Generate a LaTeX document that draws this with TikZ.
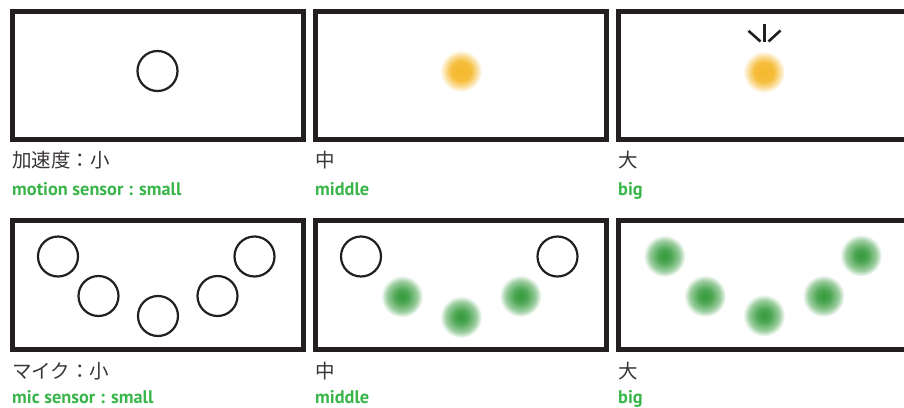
\documentclass[tikz,border=0pt]{standalone}
\usepackage{fontspec}
\setsansfont{PT Sans}
\newfontfamily\jpfont{Noto Sans CJK JP}
\definecolor{framec}{HTML}{231F20}
\definecolor{labelgreen}{HTML}{39B54A}
\definecolor{glowyellow}{HTML}{F5B82C}
\definecolor{glowgreen}{HTML}{359A3C}
\pgfdeclareradialshading{yellowglow}{\pgfpoint{0bp}{0bp}}{color(0bp)=(glowyellow); color(12bp)=(glowyellow!92!white); color(19bp)=(glowyellow!45!white); color(25bp)=(white); color(50bp)=(white)}
\pgfdeclareradialshading{greenglow}{\pgfpoint{0bp}{0bp}}{color(0bp)=(glowgreen); color(8bp)=(glowgreen!88!white); color(18bp)=(glowgreen!50!white); color(25bp)=(white); color(50bp)=(white)}
\tikzset{
  panel/.style={draw=framec, line width=5pt},
  ring/.style={draw=framec, line width=2.2pt},
  yglow/.style={shading=yellowglow},
  gglow/.style={shading=greenglow},
  jplabel/.style={anchor=base west, inner sep=0pt, text=framec!90, font=\jpfont\fontsize{19.5}{20}\selectfont},
  enlabel/.style={anchor=base west, inner sep=0pt, text=labelgreen, font=\sffamily\bfseries\fontsize{18.3}{18}\selectfont}
}
\begin{document}
\begin{tikzpicture}[x=1pt, y=-1pt]
\useasboundingbox (0,0) rectangle (904,407);
% acceleration row
\draw[panel] (12.5,11.5) rectangle (303.5,139.5);
\draw[panel] (315.5,11.5) rectangle (606.5,139.5);
\draw[panel] (618.5,11.5) rectangle (909.5,139.5);
\draw[ring] (157.5,71) circle (20);
\shade[yglow] (461,71) circle (21);
\shade[yglow] (764,72) circle (21);
\draw[framec, line width=2.6pt] (764.3,23.5) -- (764.3,41.5);
\draw[framec, line width=2.6pt] (748.5,30.8) -- (760.5,41.5);
\draw[framec, line width=2.6pt] (780.5,30.5) -- (768.5,41.5);
\node[jplabel] (acc small) at (12,167) {加速度：小};
\node[enlabel] (acc small en) at (12,195) {motion sensor : small};
\node[jplabel] (acc mid) at (315,167) {中};
\node[enlabel] (acc mid en) at (315,195) {middle};
\node[jplabel] (acc big) at (618,167) {大};
\node[enlabel] (acc big en) at (618,195) {big};
% mic row
\draw[panel] (12.5,220.5) rectangle (303.5,349.5);
\draw[panel] (315.5,220.5) rectangle (606.5,349.5);
\draw[panel] (618.5,220.5) rectangle (909.5,349.5);
\draw[ring] (58,256.5) circle (20);
\draw[ring] (98.5,296) circle (20);
\draw[ring] (158,316) circle (20);
\draw[ring] (217.5,296) circle (20);
\draw[ring] (254.5,256.5) circle (20);
\draw[ring] (361,256.5) circle (20);
\shade[gglow] (402,296.5) circle (21);
\shade[gglow] (461,317) circle (21);
\shade[gglow] (520.5,296) circle (21);
\draw[ring] (557.5,256.5) circle (20);
\shade[gglow] (664.5,256) circle (21);
\shade[gglow] (705,296) circle (21);
\shade[gglow] (764,315.5) circle (21);
\shade[gglow] (823.5,296) circle (21);
\shade[gglow] (861,255.5) circle (21);
\node[jplabel] (mic small) at (12,378) {マイク：小};
\node[enlabel] (mic small en) at (12,403) {mic sensor : small};
\node[jplabel] (mic mid) at (315,378) {中};
\node[enlabel] (mic mid en) at (315,403) {middle};
\node[jplabel] (mic big) at (618,378) {大};
\node[enlabel] (mic big en) at (618,403) {big};
\end{tikzpicture}
\end{document}
